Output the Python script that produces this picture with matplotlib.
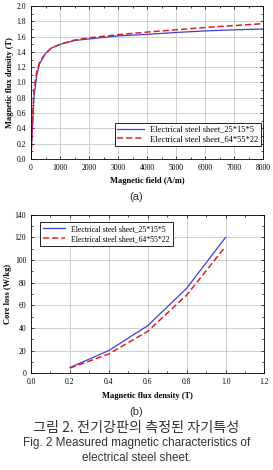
import matplotlib
matplotlib.use("Agg")
import matplotlib.pyplot as plt
from matplotlib.ticker import AutoMinorLocator

H_field = [0, 50, 100, 200, 300, 500, 700, 1000, 1500, 2000, 3000, 4000, 5000, 6000, 7000, 8000]
B_small = [0, 0.4, 0.8, 1.1, 1.25, 1.38, 1.45, 1.5, 1.55, 1.57, 1.61, 1.63, 1.655, 1.675, 1.69, 1.70]
B_large = [0, 0.5, 0.9, 1.15, 1.27, 1.38, 1.45, 1.5, 1.555, 1.585, 1.625, 1.66, 1.69, 1.72, 1.745, 1.77]

B_flux = [0.2, 0.4, 0.6, 0.8, 1.0]
loss_small = [5, 20, 42, 75, 120]
loss_large = [4.5, 17, 37, 69, 112]

label_small = "Electrical steel sheet_25*15*5"
label_large = "Electrical steel sheet_64*55*22"

serif = "Liberation Serif"
fig = plt.figure(figsize=(2.73, 4.70), dpi=100)

def style(ax):
    ax.grid(True, color="#c8c8c8", linewidth=0.6)
    ax.xaxis.set_minor_locator(AutoMinorLocator(2))
    ax.yaxis.set_minor_locator(AutoMinorLocator(2))
    ax.tick_params(which="both", direction="in", top=True, right=True, labelsize=5.5)
    ax.tick_params(which="major", length=2.5, width=0.5)
    ax.tick_params(which="minor", length=1.5, width=0.5)
    for lbl in ax.get_xticklabels() + ax.get_yticklabels():
        lbl.set_fontfamily(serif)
    for s in ax.spines.values():
        s.set_linewidth(0.6)

ax1 = fig.add_axes([0.1136, 0.662, 0.85, 0.325])
ax1.plot(H_field, B_small, color="#3f3fd8", lw=0.9, label=label_small)
ax1.plot(H_field, B_large, color="#e02020", lw=1.1, ls=(0, (4, 2)), label=label_large)
ax1.set_xlim(0, 8000)
ax1.set_ylim(0, 2.0)
ax1.set_xticks(range(0, 8001, 1000))
ax1.set_yticks([i / 5 for i in range(11)])
ax1.set_yticklabels([f"{i/5:.1f}" for i in range(11)])
style(ax1)
ax1.set_xlabel("Magnetic field (A/m)", fontfamily=serif, fontweight="bold", fontsize=6, labelpad=4)
ax1.set_ylabel("Magnetic flux density (T)", fontfamily=serif, fontweight="bold", fontsize=6, labelpad=2)
leg1 = ax1.legend(loc="lower right", bbox_to_anchor=(0.991, 0.085), prop={"family": serif, "size": 6},
                  fancybox=False, edgecolor="black", framealpha=1, handlelength=3.2,
                  borderaxespad=0, borderpad=0.3, labelspacing=0.2, handletextpad=0.8)
leg1.get_frame().set_linewidth(0.6)

ax2 = fig.add_axes([0.1136, 0.206, 0.855, 0.337])
ax2.plot(B_flux, loss_small, color="#3f3fd8", lw=0.9, label=label_small)
ax2.plot(B_flux, loss_large, color="#e02020", lw=1.1, ls=(0, (4, 2)), label=label_large)
ax2.set_xlim(0, 1.2)
ax2.set_ylim(0, 140)
ax2.set_xticks([0, 0.2, 0.4, 0.6, 0.8, 1.0, 1.2])
ax2.set_xticklabels(["0.0", "0.2", "0.4", "0.6", "0.8", "1.0", "1.2"])
ax2.set_yticks(range(0, 141, 20))
style(ax2)
ax2.set_xlabel("Magnetic flux density (T)", fontfamily=serif, fontweight="bold", fontsize=6, labelpad=4)
ax2.set_ylabel("Core loss (W/kg)", fontfamily=serif, fontweight="bold", fontsize=6, labelpad=2)
leg2 = ax2.legend(loc="upper left", bbox_to_anchor=(0.039, 0.956), prop={"family": serif, "size": 5.6},
                  fancybox=False, edgecolor="black", framealpha=1, handlelength=2.8,
                  borderaxespad=0, borderpad=0.4, labelspacing=0.3, handletextpad=0.8)
leg2.get_frame().set_linewidth(0.6)

fig.text(0.5, 1 - 197 / 470, "(a)", ha="center", va="center", fontsize=8, color="#333333",
         family=["Liberation Sans", "DejaVu Sans"])
fig.text(0.5, 1 - 412 / 470, "(b)", ha="center", va="center", fontsize=8, color="#333333",
         family=["Liberation Sans", "DejaVu Sans"])
fig.text(0.5, 1 - 428 / 470, "그림 2. 전기강판의 측정된 자기특성", ha="center", va="center", fontsize=10.2,
         color="#333333", family=["Noto Sans CJK KR", "DejaVu Sans"])
fig.text(0.5, 1 - 443 / 470, "Fig. 2 Measured magnetic characteristics of", ha="center", va="center",
         fontsize=8.5, color="#333333", family=["Liberation Sans", "DejaVu Sans"])
fig.text(0.5, 1 - 458 / 470, "electrical steel sheet.", ha="center", va="center",
         fontsize=8.5, color="#333333", family=["Liberation Sans", "DejaVu Sans"])

fig.savefig("out.png", dpi=100)
